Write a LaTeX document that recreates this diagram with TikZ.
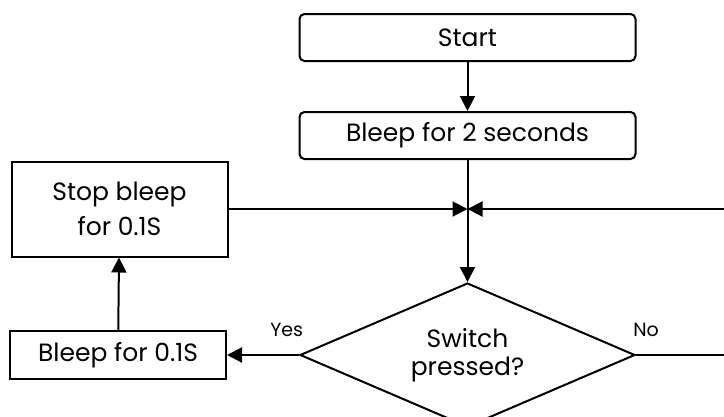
\documentclass[tikz,border=0pt]{standalone}
\usepackage{fontspec}
\setmainfont{Poppins}
\usepackage{tikz}
\usetikzlibrary{shapes.geometric,arrows.meta,positioning}

\tikzset{
  term/.style={draw, line width=2pt, rounded corners=5pt, minimum width=336pt,
    minimum height=47pt, font=\fontsize{25}{30}\selectfont},
  proc/.style={draw, line width=2pt, minimum width=216pt, align=center,
    font=\fontsize{25}{35}\selectfont},
  decide/.style={draw, diamond, shape aspect=2.3, minimum width=335pt,
    minimum height=144pt, inner sep=0pt, align=center, line width=2pt,
    font=\fontsize{25}{28}\selectfont},
  flow/.style={line width=2pt, -{Triangle[length=15pt,width=15pt]}},
  link/.style={line width=2pt},
  lbl/.style={font=\fontsize{19}{22}\selectfont}
}

\begin{document}
\begin{tikzpicture}[x=1pt,y=-1pt]

  \useasboundingbox (0,0) rectangle (724,416);

  % Start and first bleep
  \node[term] at (467.5,37.5) (start) {Start}; %
  \node[term, below=49pt of start] (bleep2) {Bleep for 2 seconds}; %

  % Meeting point of the loops
  \coordinate[below=49pt of bleep2] (j); %

  % Decision
  \node[decide, below=73pt of j] (dec) {Switch\\pressed?}; %

  % Yes branch
  \node[proc, left=72pt of dec, minimum height=48pt] (bleep01) {Bleep for 0.1S}; %
  \node[proc, left=239pt of j, minimum height=95pt] (stopb) {Stop bleep\\for 0.1S}; %

  % No branch corner (off the right edge)
  \coordinate[right=92pt of dec] (r1); %
  \coordinate (r2) at (r1 |- j); %

  % Connectors
  \draw[flow] (start) -- (bleep2); %
  \draw[link] (bleep2) -- (j); %
  \draw[flow] (j) -- (dec); %
  \draw[flow] (dec.west) -- node[lbl, pos=0.17, above=14pt] (yes) {Yes} (bleep01.east); %
  \draw[flow] (bleep01) -- (stopb); %
  \draw[flow] (stopb.east) -- (j); %
  \draw[link] (dec.east) -- node[lbl, pos=0.11, above=14pt] (no) {No} (r1); %
  \draw[flow] (r1) -- (r2) -- (j); %

\end{tikzpicture}
\end{document}
